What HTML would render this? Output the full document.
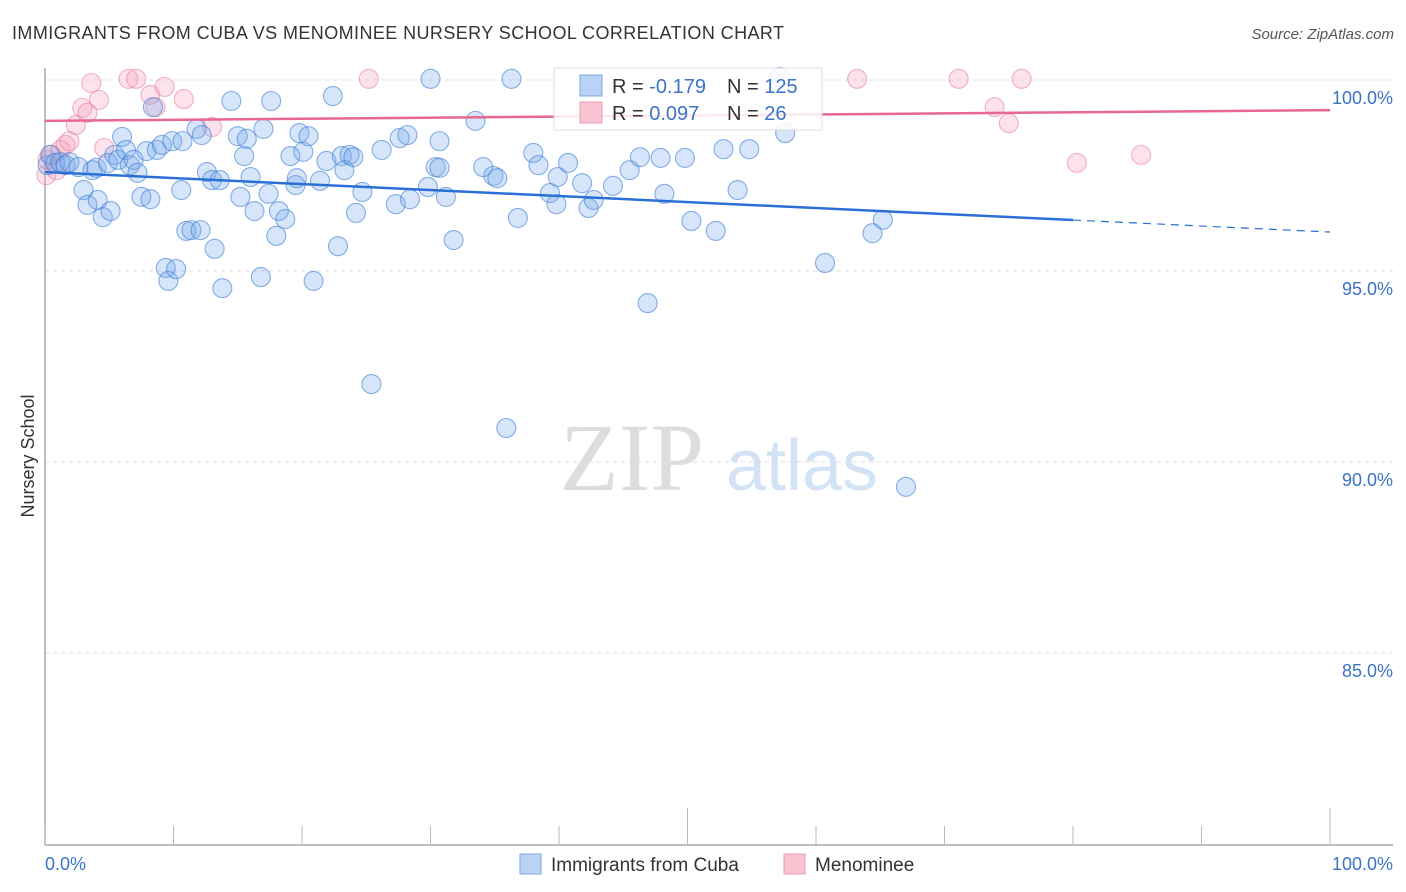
<!DOCTYPE html>
<html><head><meta charset="utf-8"><style>
body{margin:0;background:#fff;font-family:"Liberation Sans",sans-serif;}
#wrap{position:relative;width:1406px;height:892px;overflow:hidden}
</style></head><body><div id="wrap">
<svg id="svg" width="1406" height="892" style="position:absolute;left:0;top:0">
<text x="12" y="39" font-size="18" fill="#333" textLength="772">IMMIGRANTS FROM CUBA VS MENOMINEE NURSERY SCHOOL CORRELATION CHART</text>
<text x="1394" y="39" font-size="15" fill="#555" font-style="italic" text-anchor="end">Source: ZipAtlas.com</text>
<text x="0" y="0" transform="translate(34,456) rotate(-90)" font-size="18" fill="#333" text-anchor="middle">Nursery School</text>
<text x="632" y="490" font-size="96" fill="#ddd" font-family="Liberation Serif,serif" text-anchor="middle">ZIP</text>
<text x="802" y="490" font-size="72" fill="#d3e3f5" text-anchor="middle">atlas</text>
<g id="grid"></g><g id="marks"></g><g id="trends"></g>
<g>
<rect x="554" y="68" width="268" height="62" fill="#fff" fill-opacity="0.85" stroke="#ddd"/>
<rect x="580" y="75" width="22" height="21" fill="#b8d3f5" stroke="#7aa7e3"/>
<rect x="580" y="102" width="22" height="21" fill="#f9c4d2" stroke="#ec9ab1"/>
<text x="612" y="93" font-size="20" fill="#333">R = <tspan fill="#3b73c9">-0.179</tspan></text>
<text x="727" y="93" font-size="20" fill="#333">N = <tspan fill="#3b73c9">125</tspan></text>
<text x="612" y="120" font-size="20" fill="#333">R = <tspan fill="#3b73c9"> 0.097</tspan></text>
<text x="727" y="120" font-size="20" fill="#333">N = <tspan fill="#3b73c9">  26</tspan></text>
</g>
<g>
<rect x="520" y="854" width="21" height="20" fill="#b8d3f5" stroke="#7aa7e3"/>
<text x="551" y="871" font-size="19" fill="#333">Immigrants from Cuba</text>
<rect x="784" y="854" width="21" height="20" fill="#f9c4d2" stroke="#ec9ab1"/>
<text x="815" y="871" font-size="19" fill="#333">Menominee</text>
</g>
<text x="45" y="870" font-size="18" fill="#3b73c9">0.0%</text>
<text x="1393" y="870" font-size="18" fill="#3b73c9" text-anchor="end">100.0%</text>
</svg></div>
<script>
const blueX=[0.2,0.4,0.8,1.2,1.6,1.9,2.6,3.0,3.3,3.7,4.0,4.1,4.5,4.9,5.1,5.4,5.7,6.0,6.3,6.6,6.9,7.2,7.5,7.9,8.2,8.4,8.7,9.1,9.4,9.6,9.9,10.2,10.6,10.7,11.0,11.4,11.8,12.1,12.2,12.6,13.0,13.2,13.6,13.8,14.5,15.0,15.2,15.5,15.7,16.0,16.3,16.8,17.0,17.4,17.6,18.0,18.2,18.7,19.1,19.5,19.6,19.8,20.1,20.5,20.9,21.4,21.9,22.4,22.8,23.1,23.3,23.7,24.0,24.2,24.7,25.4,26.2,27.3,27.6,28.2,28.4,29.8,30.0,30.4,30.7,30.7,31.2,31.8,33.5,34.1,34.9,35.2,35.9,36.3,36.8,38.0,38.4,39.3,39.8,39.9,40.7,41.8,42.3,42.7,44.2,45.5,46.3,46.9,47.9,48.2,49.8,50.3,52.2,52.8,53.9,54.8,57.6,57.2,60.7,64.4,65.2,67.0];
const blueY=[97.77,98.04,97.83,97.85,97.77,97.85,97.72,97.12,96.73,97.64,97.70,96.86,96.41,97.83,96.57,98.04,97.91,98.51,98.17,97.77,97.91,97.57,96.94,98.14,96.88,99.29,98.17,98.30,95.08,94.74,98.40,95.05,97.12,98.40,96.05,96.07,98.72,96.07,98.56,97.59,97.38,95.58,97.38,94.55,99.45,98.53,96.94,98.01,98.46,97.46,96.57,94.84,98.72,97.02,99.45,95.92,96.57,96.36,98.01,97.25,97.43,98.61,98.12,98.53,94.74,97.36,97.88,99.58,95.65,98.01,97.64,98.04,97.98,96.52,97.07,92.04,98.17,96.75,98.48,98.56,96.88,97.20,100.03,97.72,97.70,98.40,96.94,95.81,98.93,97.72,97.49,97.43,90.89,100.03,96.39,98.09,97.77,97.04,96.75,97.46,97.83,97.30,96.65,96.86,97.23,97.64,97.98,94.16,97.96,97.02,97.96,96.31,96.05,98.19,97.12,98.19,98.61,100.08,95.21,95.99,96.34,89.35];
const pinkX=[0.1,0.2,0.5,0.9,1.2,1.6,1.9,2.4,2.9,3.3,3.6,4.2,4.6,6.5,7.1,8.2,8.6,9.3,10.8,13.0,25.2,63.2,71.1,73.9,75.0,76.0,80.3,85.3];
const pinkY=[97.51,97.91,98.04,97.64,98.17,98.30,98.40,98.82,99.27,99.14,99.92,99.48,98.22,100.03,100.03,99.61,99.29,99.82,99.50,98.77,100.03,100.03,100.03,99.29,98.87,100.03,97.83,98.04];
const yTicks=[100,95,90,85];
const yTickLabels=["100.0%","95.0%","90.0%","85.0%"];
const xTicks=[0,10,20,30,40,50,60,70,80,90,100];
const blueTrend=[97.59,96.02]; const blueSolidEnd=80;
const pinkTrend=[98.93,99.21];
const NS="http://www.w3.org/2000/svg";
const sx=v=>45+v*12.85, sy=v=>80+(100-v)*38.2;
function mk(t,a,p){const e=document.createElementNS(NS,t);for(const k in a)e.setAttribute(k,a[k]);p.appendChild(e);return e;}
const grid=document.getElementById('grid'),marks=document.getElementById('marks'),tr=document.getElementById('trends');
yTicks.forEach((t,i)=>{const l=mk('line',{x1:45,x2:1393,y1:sy(t),y2:sy(t),stroke:'#ddd','stroke-dasharray':'4,4'},grid);


const tx=mk('text',{x:1393,y:sy(t)+24,'font-size':18,fill:'#3b73c9','text-anchor':'end'},grid);tx.textContent=yTickLabels[i];

});
const ax=mk('line',{x1:45,x2:1393,y1:845,y2:845,stroke:'#aaa','stroke-width':1.5},grid);


const ay=mk('line',{x1:45,x2:45,y1:68,y2:845,stroke:'#aaa','stroke-width':1.5},grid);


xTicks.forEach(t=>{const big=(t%50===0&&t>0);const l=mk('line',{x1:sx(t),x2:sx(t),y1:big?808:826,y2:845,stroke:'#bbb'},grid);

});
function pts(X,Y,fill,stroke,name){X.forEach((x,i)=>{const c=mk('circle',{cx:sx(x),cy:sy(Y[i]),r:9.5,fill:fill,stroke:stroke,'stroke-width':1.1},marks);

});}
pts(pinkX,pinkY,'rgba(245,160,185,0.3)','rgba(230,120,155,0.55)','menominee-point');
pts(blueX,blueY,'rgba(120,170,235,0.3)','rgba(60,125,215,0.6)','cuba-point');
const bAt=x=>blueTrend[0]+(blueTrend[1]-blueTrend[0])*x/100;
const b1=mk('line',{x1:sx(0),y1:sy(bAt(0)),x2:sx(blueSolidEnd),y2:sy(bAt(blueSolidEnd)),stroke:'#2a6fd6','stroke-width':2.5},tr);


const b2=mk('line',{x1:sx(blueSolidEnd),y1:sy(bAt(blueSolidEnd)),x2:sx(100),y2:sy(bAt(100)),stroke:'#2a6fd6','stroke-width':1.2,'stroke-dasharray':'8,6'},tr);


const p1=mk('line',{x1:sx(0),y1:sy(pinkTrend[0]),x2:sx(100),y2:sy(pinkTrend[1]),stroke:'#e8688f','stroke-width':2.5},tr);


</script></body></html>
